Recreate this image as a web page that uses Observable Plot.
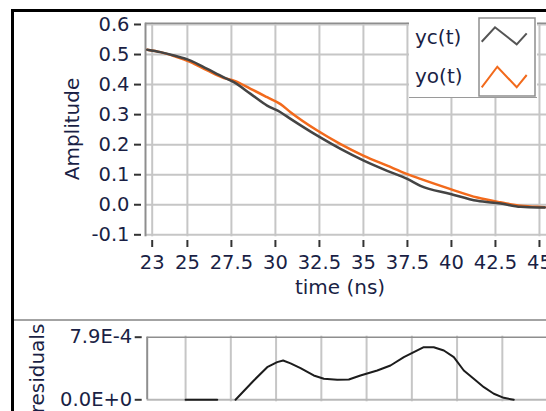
<!DOCTYPE html>
<html><head><meta charset="utf-8">
<script src="https://cdn.jsdelivr.net/npm/d3@7"></script>
<script src="https://cdn.jsdelivr.net/npm/@observablehq/plot@0.6"></script>
<style>
body{margin:0;background:#fff;}
#wrap{position:relative;width:546px;height:411px;overflow:hidden;font-family:"DejaVu Sans",sans-serif;background:#fff;}
.abs{position:absolute;}
</style></head><body>
<div id="wrap">
  <div id="main" class="abs" style="left:0;top:0;width:546px;"></div>
  <div id="res" class="abs" style="left:0;top:320px;width:546px;"></div>
  <div class="abs" style="left:11px;top:9px;width:535px;height:3px;background:#000;"></div>
  <div class="abs" style="left:11px;top:9px;width:3px;height:402px;background:#000;"></div>
  <div class="abs" style="left:14px;top:319px;width:532px;height:2px;background:#a3a3a3;"></div>
  <div id="legend" class="abs" style="left:409px;top:12px;width:128px;height:85px;background:#fff;border-bottom:1.5px solid #9a9a9a;"></div>
</div>
<script>
// ---- data ----
const seriesNames = ["yc(t)", "yo(t)"];
const seriesColors = ["#444444", "#f26a1c"];
const t = [22.72, 23.47, 24.23, 25.18, 26.13, 27.07, 27.64, 28.59, 29.53, 30.29, 30.86, 32.38, 33.70, 35.02, 36.35, 37.49, 38.24, 39.95, 41.47, 42.79, 43.93, 44.88, 45.3];
const yc = [0.516, 0.508, 0.497, 0.480, 0.452, 0.424, 0.408, 0.369, 0.330, 0.308, 0.286, 0.230, 0.186, 0.147, 0.113, 0.086, 0.063, 0.036, 0.013, 0.004, -0.007, -0.009, -0.009];
const yo = [0.516, 0.508, 0.495, 0.475, 0.447, 0.422, 0.413, 0.386, 0.358, 0.335, 0.308, 0.247, 0.202, 0.163, 0.130, 0.102, 0.086, 0.052, 0.024, 0.008, -0.003, -0.007, -0.008];
const resT = [25.0, 26.75, 27.2, 27.76, 28.77, 29.51, 30.06, 30.39, 30.80, 31.35, 32.08, 32.64, 33.38, 34.02, 34.66, 35.59, 36.32, 37.06, 37.61, 38.16, 38.71, 39.27, 39.82, 40.37, 40.92, 41.48, 42.03, 42.58, 43.13];
const resV = [0, 0, NaN, 0, 2.44e-4, 4.11e-4, 4.75e-4, 4.96e-4, 4.6e-4, 4.0e-4, 3.07e-4, 2.65e-4, 2.52e-4, 2.56e-4, 3.07e-4, 3.70e-4, 4.33e-4, 5.38e-4, 6.01e-4, 6.64e-4, 6.64e-4, 6.22e-4, 5.38e-4, 3.70e-4, 2.65e-4, 1.59e-4, 0.76e-4, 0.25e-4, 0];
const xTicks = [23, 25, 27.5, 30, 32.5, 35, 37.5, 40, 42.5, 45];
const yTicks = [-0.1, 0.0, 0.1, 0.2, 0.3, 0.4, 0.5, 0.6];
const resGridX = [25, 27.5, 30, 32.5, 35, 37.5, 40, 42.5];
const resTicks = [0, 7.9e-4];
const resTickLabels = ["0.0E+0", "7.9E-4"];

const rows = t.map((d, i) => ({t: d, yc: yc[i], yo: yo[i]}));
const resRows = resT.map((d, i) => ({t: d, v: resV[i]}));

const textColor = "#1a1f45";
const gridColor = "#c6c6c6";
const borderColor = "#8e8e8e";

const xMin = 22.62, xMax = 45.40, yTop = 0.6043;
const H = 318;
const main = Plot.plot({
  width: 546, height: H,
  marginLeft: 145, marginRight: 0, marginTop: 22.7, marginBottom: H - 234.3,
  x: {domain: [xMin, xMax], axis: null},
  y: {domain: [-0.1, yTop], axis: null},
  style: {fontFamily: "DejaVu Sans, sans-serif", fontSize: "19.5px", color: textColor, background: "transparent"},
  marks: [
    Plot.gridX(xTicks, {stroke: gridColor, strokeOpacity: 1, strokeWidth: 2, insetBottom: -2}),
    Plot.gridY(yTicks, {stroke: gridColor, strokeOpacity: 1, strokeWidth: 2}),
    Plot.ruleY([yTop], {stroke: borderColor, strokeWidth: 1.5}),
    Plot.ruleX([xMin], {stroke: borderColor, strokeWidth: 2, insetBottom: -2}),
    Plot.axisY(yTicks, {tickSize: 7, dx: -4, tickPadding: 5, tickFormat: d => d.toFixed(1), stroke: "#333", strokeWidth: 2, label: null, fontSize: 19.5}),
    Plot.axisX(xTicks, {tickSize: 7, dy: 5.7, tickPadding: 8, tickFormat: d => String(d), stroke: "#333", strokeWidth: 2, label: null, fontSize: 19.5}),
    Plot.line(rows, {x: "t", y: "yo", stroke: seriesColors[1], strokeWidth: 2.5, curve: "monotone-x"}),
    Plot.line(rows, {x: "t", y: "yc", stroke: seriesColors[0], strokeWidth: 2.5, curve: "monotone-x"}),
    Plot.text(["Amplitude"], {frameAnchor: "left", textAnchor: "middle", lineAnchor: "middle", rotate: -90, dx: -73, fontSize: 20, fill: textColor}),
    Plot.text(["time (ns)"], {frameAnchor: "bottom", textAnchor: "middle", lineAnchor: "middle", dx: -6, dy: 53, fontSize: 20, fill: textColor})
  ]
});
document.getElementById("main").appendChild(main);

const RH = 91;
const res = Plot.plot({
  width: 546, height: RH,
  marginLeft: 146.7, marginRight: 0, marginTop: 16.7, marginBottom: RH - 79.3,
  x: {domain: [22.88, 44.94], axis: null},
  y: {domain: [0, 7.9e-4], axis: null},
  style: {fontFamily: "DejaVu Sans, sans-serif", fontSize: "19.5px", color: textColor, background: "transparent"},
  marks: [
    Plot.gridX(resGridX, {stroke: gridColor, strokeOpacity: 1, strokeWidth: 2, insetTop: -1, insetBottom: -2}),
    Plot.ruleY([0], {stroke: "#b8b8b8", strokeWidth: 2}),
    Plot.ruleY([7.9e-4], {stroke: borderColor, strokeWidth: 1.5}),
    Plot.ruleX([22.88], {stroke: borderColor, strokeWidth: 2}),
    Plot.axisY(resTicks, {tickSize: 7, dx: -5, tickPadding: 3, tickFormat: d => resTickLabels[resTicks.indexOf(d)], stroke: "#333", strokeWidth: 2, label: null, fontSize: 19.5}),
    Plot.line(resRows, {x: "t", y: "v", stroke: "#1c1c1c", strokeWidth: 2}),
    Plot.text(["residuals"], {frameAnchor: "left", textAnchor: "middle", lineAnchor: "middle", rotate: -90, dx: -110, fontSize: 20, fill: textColor})
  ]
});
document.getElementById("res").appendChild(res);

// ---- legend ----
const legend = document.getElementById("legend");
const icons = [[[2.7,23.7],[16,9.3],[37.7,26.3],[47.7,15.3]], [[2.7,69.3],[18.3,48.7],[37.7,69.3],[47.7,57]]];
const labelY = [24.7, 64];
let html = "";
seriesNames.forEach((n, i) => {
  html += `<div class="abs" style="left:6px;top:${labelY[i] - 12}px;font-size:20px;line-height:24px;color:${textColor};">${n}</div>`;
});
html += `<svg class="abs" style="left:70px;top:6px;overflow:visible" width="56" height="78">
  <rect x="0" y="0" width="56" height="78" fill="#fff" stroke="#8e8e8e" stroke-width="1.5"/>
  ${icons.map((p, i) => `<polyline points="${p.map(q => q.join(",")).join(" ")}" fill="none" stroke="${i === 0 ? "#555" : seriesColors[i]}" stroke-width="2"/>`).join("")}
</svg>`;
legend.innerHTML = html;
</script>
</body></html>
